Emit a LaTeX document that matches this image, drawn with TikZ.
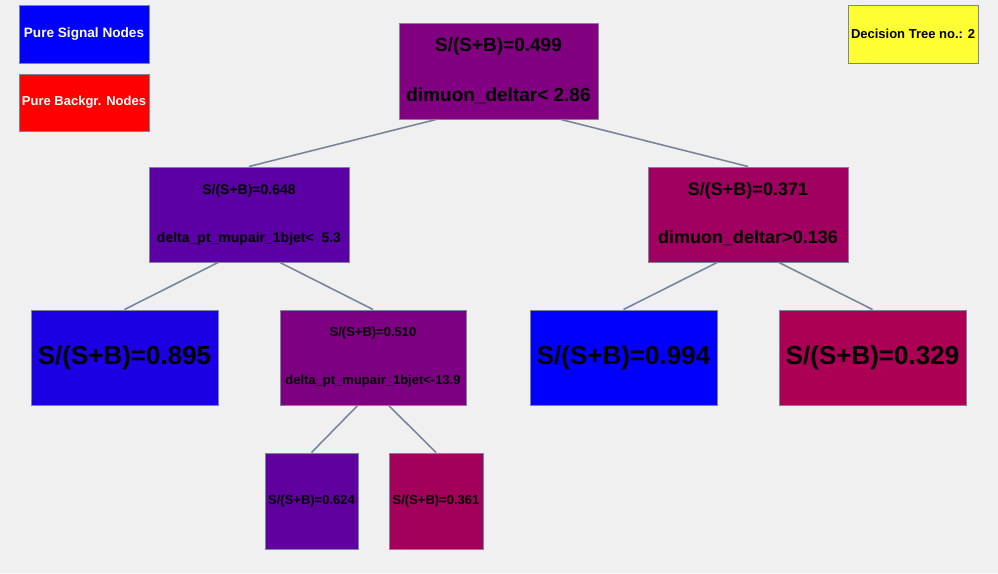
\documentclass[tikz,border=0pt]{standalone}
\usepackage{fontspec}
\setmainfont{Liberation Sans}
\usetikzlibrary{calc}

% node fill colours: red = 255(1-p), blue = 255p for purity p
\definecolor{bgc}{HTML}{F0F0F0}
\definecolor{linec}{HTML}{7A8699}
\definecolor{cA}{RGB}{128,0,127}   % 0.499
\definecolor{cB}{RGB}{90,0,165}    % 0.648
\definecolor{cC}{RGB}{160,0,95}    % 0.371
\definecolor{cD}{RGB}{27,0,228}    % 0.895
\definecolor{cE}{RGB}{125,0,130}   % 0.510
\definecolor{cF}{RGB}{2,0,253}     % 0.994
\definecolor{cG}{RGB}{171,0,84}    % 0.329
\definecolor{cH}{RGB}{96,0,159}    % 0.624
\definecolor{cI}{RGB}{163,0,92}    % 0.361
\definecolor{yel}{RGB}{255,255,51}

\newcommand\fsz[2]{\fontsize{#1}{#2}\selectfont}

\tikzset{
  box/.style={draw=linec, line width=1pt, inner sep=0pt, align=center},
  link/.style={draw=linec, line width=1.6pt},
  wide/.style={minimum width=#1pt},
  tall/.style={minimum height=#1pt},
}

\begin{document}
\begin{tikzpicture}[x=1pt, y=-1pt]
  \fill[bgc] (0,0) rectangle (998,573);
  \useasboundingbox (0,0) rectangle (998,573);

  % legend and tree number
  \node[box, fill=blue, text=white, wide=130, tall=58, font=\bfseries\fsz{13.6}{16}] (sig) at (84,34) {Pure Signal Nodes};
  \node[box, fill=red, text=white, wide=130, tall=57, font=\bfseries\fsz{13}{16}] (bkg) at (84,102.5) {Pure Backgr. Nodes};
  \node[box, fill=yel, wide=130, tall=58, font=\bfseries\fsz{13}{16}] (treeno) at (913,34) {Decision Tree no.: 2};

  % tree nodes
  \node[box, fill=cA, wide=199, tall=96, font=\bfseries\fsz{19}{50}] (root) at (498.5,71)
    {S/(S+B)=0.499\\dimuon\_deltar< 2.86};
  \node[box, fill=cB, wide=200, tall=95, font=\bfseries\fsz{14}{48}] (l) at (249,214.5)
    {S/(S+B)=0.648\\delta\_pt\_mupair\_1bjet<\ \ 5.3};
  \node[box, fill=cC, wide=200, tall=95, font=\bfseries\fsz{18}{48}] (r) at (748,214.5)
    {S/(S+B)=0.371\\dimuon\_deltar>0.136};
  \node[box, fill=cD, wide=187, tall=95, font=\bfseries\fsz{26}{30}] (ll) at (124.5,357.5) {S/(S+B)=0.895};
  \node[box, fill=cE, wide=186, tall=95, font=\bfseries\fsz{13}{48}] (lr) at (373,357.5)
    {S/(S+B)=0.510\\delta\_pt\_mupair\_1bjet<-13.9};
  \node[box, fill=cF, wide=187, tall=95, font=\bfseries\fsz{26}{30}] (rl) at (623.5,357.5) {S/(S+B)=0.994};
  \node[box, fill=cG, wide=187, tall=95, font=\bfseries\fsz{26}{30}] (rr) at (872.5,357.5) {S/(S+B)=0.329};
  \node[box, fill=cH, wide=93, tall=96, font=\bfseries\fsz{13}{16}] (lrl) at (311.5,501) {S/(S+B)=0.624};
  \node[box, fill=cI, wide=94, tall=96, font=\bfseries\fsz{13}{16}] (lrr) at (436,501) {S/(S+B)=0.361};

  % connectors
  \draw[link] ([xshift=-62.5pt]root.south) -- (l.north);
  \draw[link] ([xshift=62.5pt]root.south) -- (r.north);
  \draw[link] ([xshift=-31pt]l.south) -- (ll.north);
  \draw[link] ([xshift=31pt]l.south) -- (lr.north);
  \draw[link] ([xshift=-31pt]r.south) -- (rl.north);
  \draw[link] ([xshift=31pt]r.south) -- (rr.north);
  \draw[link] ([xshift=-15.4pt]lr.south) -- (lrl.north);
  \draw[link] ([xshift=15.8pt]lr.south) -- (lrr.north);
\end{tikzpicture}
\end{document}
